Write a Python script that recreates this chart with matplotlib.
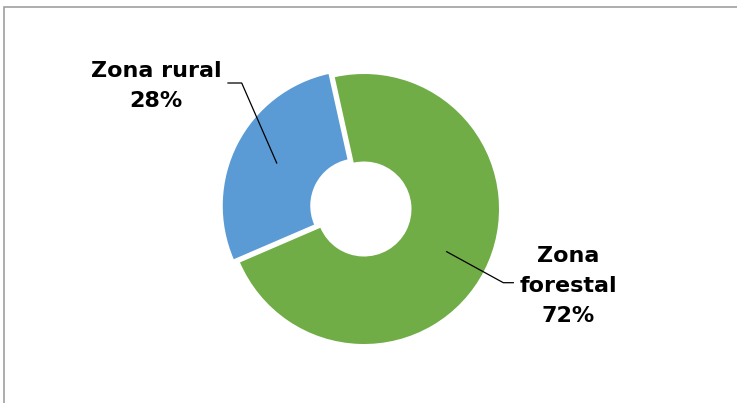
import matplotlib

matplotlib.use("Agg")
import matplotlib.pyplot as plt

# Data
labels = ["Zona rural", "Zona forestal"]
shares = [28, 72]
label_texts = ["Zona rural\n28%", "Zona\nforestal\n72%"]
colors = ["#5B9BD5", "#70AD47"]

W, H = 737, 403
fig = plt.figure(figsize=(W / 100, H / 100), dpi=100)
ax = fig.add_axes([0, 0, 1, 1])

# pixel-like data coords (y up)
cx, cy = 364, H - 209
R, r_in = 135, 47.5

ax.pie(
    shares,
    colors=colors,
    startangle=102.5,
    counterclock=True,
    radius=R,
    center=(cx, cy),
    explode=[7, 0],
    wedgeprops=dict(width=R - r_in, edgecolor="none", linewidth=0),
)
ax.set_xlim(0, W)
ax.set_ylim(0, H)
ax.set_aspect("equal")
ax.axis("off")

# chart border (only top and left edges visible)
ax.plot([4, 4, W + 10], [-10, H - 7, H - 7], color="#A0A0A0", lw=1.2,
        solid_joinstyle="miter", clip_on=False)

# leader lines
ax.plot([228, 241.7, 276.7], [H - 83, H - 83, H - 163], color="black", lw=0.9)
ax.plot([446.7, 503.3, 513.3], [H - 251.7, H - 282.7, H - 282.7], color="black", lw=0.9)

txt_kw = dict(ha="center", va="center", fontsize=16, fontweight="bold",
              color="black", linespacing=1.62, family="DejaVu Sans")
ax.text(156, H - 86, label_texts[0], **txt_kw)
ax.text(568, H - 286, label_texts[1], **txt_kw)

fig.savefig("out.png", dpi=100, facecolor="white")
